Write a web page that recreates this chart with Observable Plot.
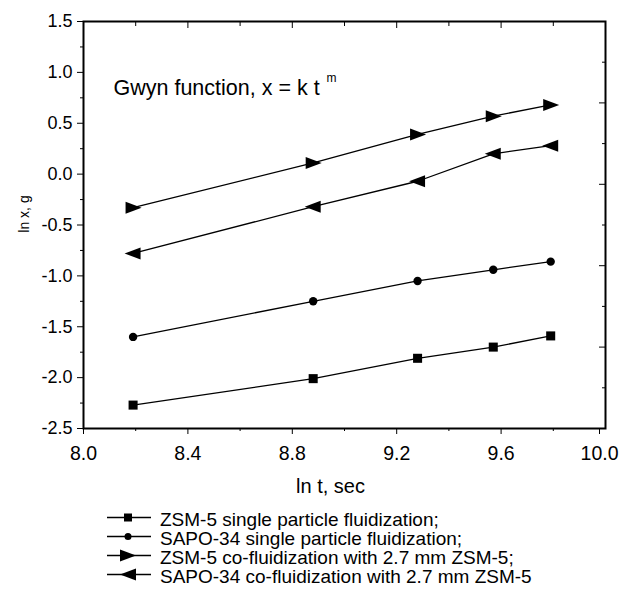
<!DOCTYPE html>
<html><head><meta charset="utf-8">
<script src="https://cdn.jsdelivr.net/npm/d3@7"></script>
<script src="https://cdn.jsdelivr.net/npm/@observablehq/plot@0.6"></script>
<style>
body{margin:0;background:#fff;font-family:"Liberation Sans",Arial,sans-serif;color:#000;}
#legend{width:621px;padding-top:8px;}
.row{display:flex;align-items:center;height:19px;padding-left:105px;font-size:19px;line-height:19px;white-space:nowrap;}
.row svg{margin-right:7px;flex:none;}
.row span{position:relative;top:2px;}
</style></head><body>
<div id="chart"></div><div id="legend"></div>
<script>
// ln t (s) at 1..5 h
const lnT = [8.19, 8.88, 9.28, 9.57, 9.79];
const zsmSingle  = [-2.27, -2.01, -1.81, -1.70, -1.59];
const sapoSingle = [-1.60, -1.25, -1.05, -0.94, -0.86];
const zsmCo      = [-0.33, 0.11, 0.39, 0.57, 0.68];
const sapoCo     = [-0.78, -0.32, -0.07, 0.20, 0.28];
const seriesNames = [
  "ZSM-5 single particle fluidization;",
  "SAPO-34 single particle fluidization;",
  "ZSM-5 co-fluidization with 2.7 mm ZSM-5;",
  "SAPO-34 co-fluidization with 2.7 mm ZSM-5"
];
const xMajor = [8.0, 8.4, 8.8, 9.2, 9.6];
const xLast = [10.0];
const xMinor = [8.2, 8.6, 9.0, 9.4, 9.8];
const yMajor = [-2.5, -2.0, -1.5, -1.0, -0.5, 0.0, 0.5, 1.0, 1.5];
const yMinor = [-2.25, -1.75, -1.25, -0.75, -0.25, 0.25, 0.75, 1.25];
const rightMajor = [0.7, -0.1, -0.9, -1.7];
const rightMinor = [1.1, 0.3, -0.5, -1.3, -2.1];
const xLabel = "ln t, sec";
const yLabel = "ln x, g";
const note = "Gwyn function, x = k t";
const noteSup = "m";

const triRight = {draw(ctx, size){const r=Math.sqrt(size/Math.PI);ctx.moveTo(1.7*r,0);ctx.lineTo(-1.5*r,-1.2*r);ctx.lineTo(-1.5*r,1.2*r);ctx.closePath();}};
const triLeft = {draw(ctx, size){const r=Math.sqrt(size/Math.PI);ctx.moveTo(-1.7*r,0);ctx.lineTo(1.5*r,-1.2*r);ctx.lineTo(1.5*r,1.2*r);ctx.closePath();}};

const seriesVals = [zsmSingle, sapoSingle, zsmCo, sapoCo];
const symbols = ["square", "circle", triRight, triLeft];
const radii = [5.1, 4.2, 5, 5];
const data = seriesVals.map((vals, s) => vals.map((v, i) => ({x: lnT[i], y: v, s})));

const fmt = d => d.toFixed(1);
const blank = () => "";

const marks = [
  Plot.axisX({ticks: xMajor, tickSize: 6, tickPadding: 12, tickFormat: fmt, label: null, fontSize: 19.5}),
  Plot.axisX({ticks: xLast, tickSize: 6, tickPadding: 12, tickFormat: fmt, label: null, fontSize: 19.5, textAnchor: "middle", dx: -6}),
  Plot.axisX({ticks: xMinor, tickSize: 3, tickFormat: blank, label: null}),
  Plot.axisX({anchor: "top", ticks: xMajor.concat(xLast), tickSize: 6, insetTop: 6, tickFormat: blank, label: null}),
  Plot.axisX({anchor: "top", ticks: xMinor, tickSize: 4, insetTop: 4, tickFormat: blank, label: null}),
  Plot.axisY({ticks: yMajor, tickSize: 6, tickPadding: 5, tickFormat: fmt, label: null, fontSize: 18}),
  Plot.axisY({ticks: yMinor, tickSize: 3, tickFormat: blank, label: null}),
  Plot.axisY({anchor: "right", ticks: rightMajor, tickSize: 7, insetRight: 7, tickFormat: blank, label: null}),
  Plot.axisY({anchor: "right", ticks: rightMinor, tickSize: 4, insetRight: 4, tickFormat: blank, label: null}),
  Plot.frame({strokeWidth: 2}),
  Plot.text([xLabel], {text: d => d, frameAnchor: "bottom", textAnchor: "middle", lineAnchor: "middle", dx: -14, dy: 58, fontSize: 20}),
  Plot.text([yLabel], {text: d => d, frameAnchor: "left", textAnchor: "middle", lineAnchor: "middle", rotate: -90, dx: -59, dy: -11, fontSize: 14}),
  Plot.text([note], {text: d => d, frameAnchor: "top-left", textAnchor: "start", lineAnchor: "top", dx: 30, dy: 58, fontSize: 21.5}),
  Plot.text([noteSup], {text: d => d, frameAnchor: "top-left", textAnchor: "start", lineAnchor: "top", dx: 243, dy: 52, fontSize: 12})
];
data.forEach((d, s) => {
  marks.push(Plot.line(d, {x: "x", y: "y", stroke: "black", strokeWidth: 1.3}));
  marks.push(Plot.dot(d, {x: "x", y: "y", symbol: () => symbols[s], r: radii[s], fill: "black", stroke: "none"}));
});

const chart = Plot.plot({
  width: 621, height: 500,
  marginLeft: 83, marginRight: 16, marginTop: 21, marginBottom: 72,
  style: {fontFamily: "Liberation Sans, Arial, sans-serif", fontSize: "18px", color: "black", background: "white"},
  x: {domain: [8, 10]},
  y: {domain: [-2.5, 1.5]},
  symbol: {type: "identity"},
  marks
});
document.getElementById("chart").appendChild(chart);

// legend
const leg = document.getElementById("legend");
const symPaths = [
  '<rect x="19" y="5.5" width="8" height="8"/>',
  '<circle cx="23" cy="9.5" r="3.5"/>',
  '<path d="M31,9.5 L15,3.5 L15,15.5 Z"/>',
  '<path d="M15,9.5 L31,3.5 L31,15.5 Z"/>'
];
seriesNames.forEach((name, i) => {
  const row = document.createElement("div");
  row.className = "row";
  row.innerHTML = `<svg width="48" height="19"><line x1="2" x2="46" y1="9.5" y2="9.5" stroke="black" stroke-width="1.3"/>${symPaths[i]}</svg><span>${name}</span>`;
  leg.appendChild(row);
});
</script>
</body></html>
